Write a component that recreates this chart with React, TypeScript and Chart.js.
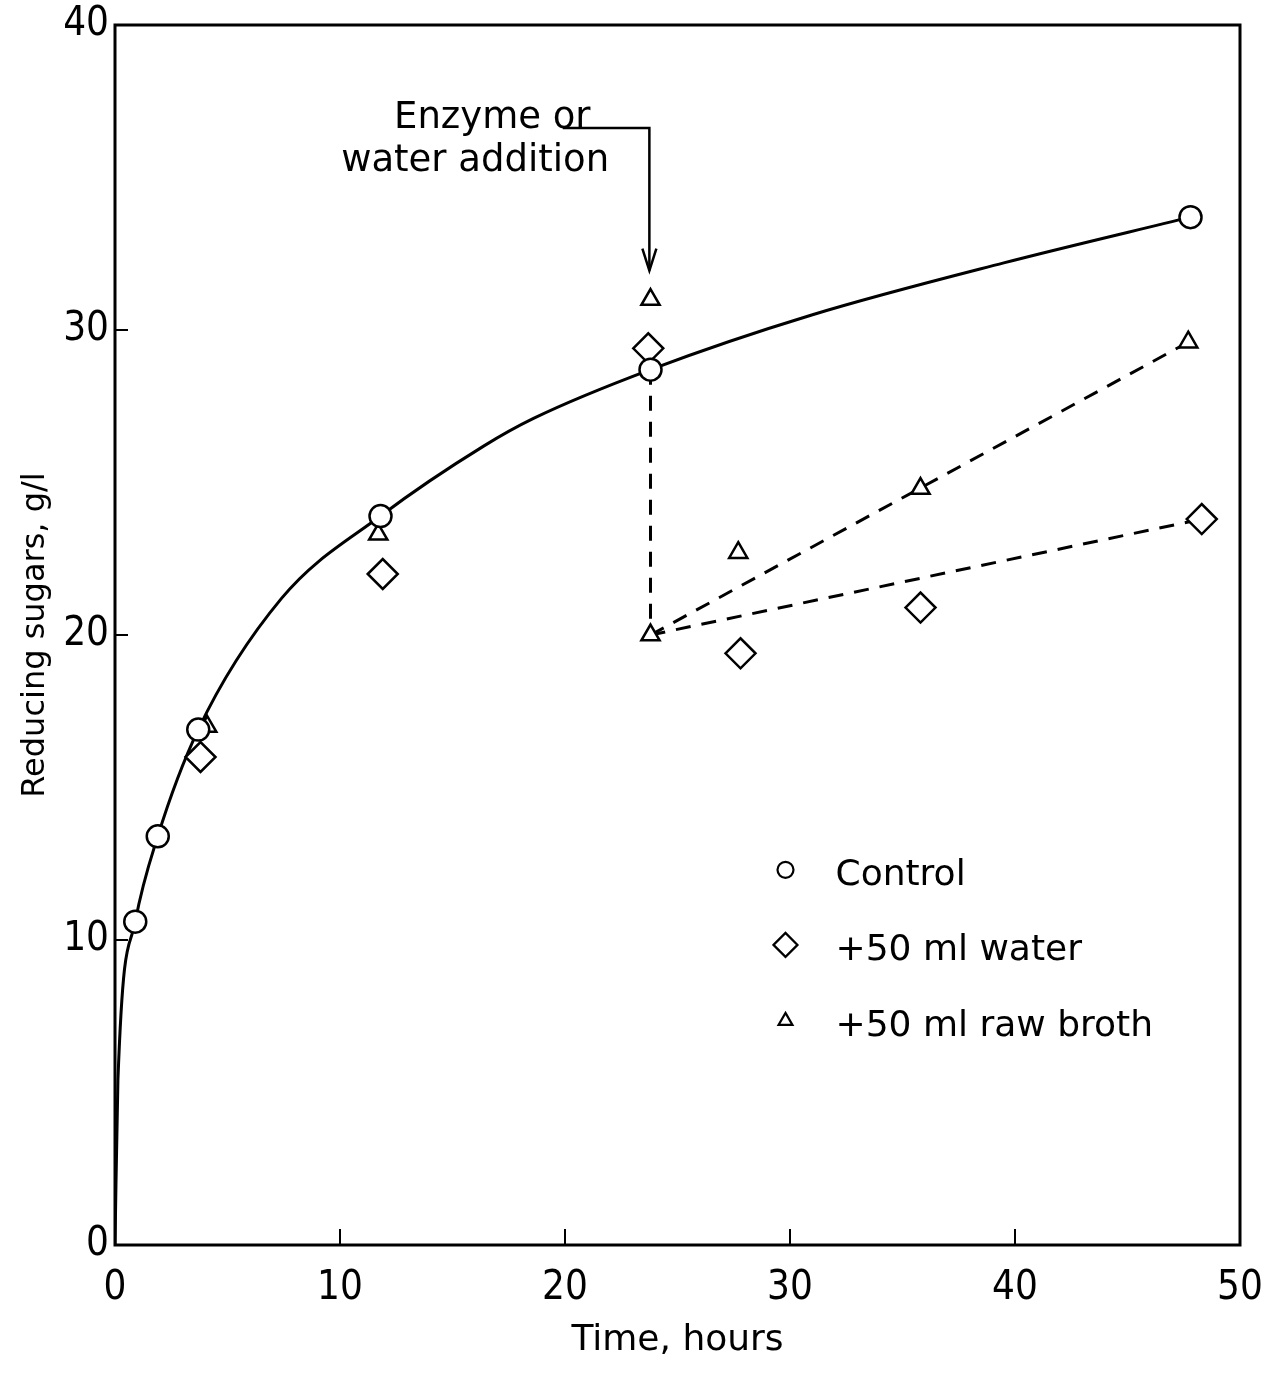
import React, { useEffect, useRef } from "react";
import { Chart, registerables } from "chart.js";

Chart.register(...registerables);

// ---- Axis ticks ----
const X_TICKS = [0, 10, 20, 30, 40, 50];
const Y_TICKS = [0, 10, 20, 30, 40];

// ---- Measured points (time in hours, reducing sugars in g/l) ----
const controlTime = [0.9, 1.9, 3.7, 11.8, 23.8, 47.8];
const controlSugar = [10.6, 13.4, 16.9, 23.9, 28.7, 33.7];

const waterTime = [3.8, 11.9, 23.7, 27.8, 35.8, 48.3];
const waterSugar = [16.0, 22.0, 29.4, 19.4, 20.9, 23.8];

const brothTime = [4.1, 11.7, 23.8, 23.8, 27.7, 35.8, 47.7];
const brothSugar = [17.0, 23.3, 31.0, 20.0, 22.7, 24.8, 29.6];

// ---- Hand-drawn control curve ----
const curveTime = [0, 0.13, 0.9, 1.9, 3.7, 7.4, 11.8, 16.4, 18.6, 23.8, 31.0, 39.5, 47.8];
const curveSugar = [0, 5.4, 10.6, 13.4, 16.9, 21.2, 23.9, 26.2, 27.1, 28.7, 30.5, 32.2, 33.7];

// ---- Dashed lines after addition ----
const dropTime = [23.8, 23.8];
const dropSugar = [28.7, 20.0];
const brothLineTime = [23.8, 47.7];
const brothLineSugar = [20.0, 29.6];
const waterLineTime = [23.8, 48.3];
const waterLineSugar = [20.0, 23.8];

// ---- Labels ----
const X_TITLE = "Time, hours";
const Y_TITLE = "Reducing sugars, g/l";
const LEGEND_LABELS = ["Control", "+50 ml water", "+50 ml raw broth"];
const NOTE_LINES = ["Enzyme or", "water addition"];

const pts = (xs: number[], ys: number[]) => xs.map((x, i) => ({ x, y: ys[i] }));

const TEXT_FONT = '"DejaVu Sans", "Liberation Sans", sans-serif';
const TICK_FONT = '"Liberation Sans Narrow", "DejaVu Sans Condensed", "DejaVu Sans", sans-serif';

function drawMarker(ctx: CanvasRenderingContext2D, kind: string, x: number, y: number, r: number) {
  ctx.beginPath();
  if (kind === "circle") {
    ctx.arc(x, y, r, 0, Math.PI * 2);
  } else if (kind === "diamond") {
    ctx.moveTo(x - r, y);
    ctx.lineTo(x, y - r);
    ctx.lineTo(x + r, y);
    ctx.lineTo(x, y + r);
    ctx.closePath();
  } else {
    const h = r * 1.5;
    const w = r * Math.sqrt(3);
    ctx.moveTo(x, y - r);
    ctx.lineTo(x + w / 2, y - r + h);
    ctx.lineTo(x - w / 2, y - r + h);
    ctx.closePath();
  }
  ctx.fillStyle = "#fff";
  ctx.fill();
  ctx.stroke();
}

const decorPlugin = {
  id: "decor",
  afterDatasetsDraw(chart: any) {
    const { ctx, chartArea: a, scales } = chart;
    const xs = scales.x;
    const ys = scales.y;
    ctx.save();
    ctx.strokeStyle = "#000";
    ctx.fillStyle = "#000";

    // frame
    ctx.lineWidth = 3;
    ctx.strokeRect(a.left, a.top, a.right - a.left, a.bottom - a.top);

    // inward ticks
    ctx.lineWidth = 2;
    ctx.beginPath();
    xs.ticks.forEach((t: any) => {
      if (t.value > xs.min && t.value < xs.max) {
        const px = xs.getPixelForValue(t.value);
        ctx.moveTo(px, a.bottom);
        ctx.lineTo(px, a.bottom - 16);
      }
    });
    ys.ticks.forEach((t: any) => {
      if (t.value > ys.min && t.value < ys.max) {
        const py = ys.getPixelForValue(t.value);
        ctx.moveTo(a.left, py);
        ctx.lineTo(a.left + 13, py);
      }
    });
    ctx.stroke();

    // annotation arrow
    const ax0 = xs.getPixelForValue(19.9);
    const ax1 = xs.getPixelForValue(23.75);
    const ay0 = ys.getPixelForValue(36.62);
    const ay1 = ys.getPixelForValue(31.95);
    ctx.lineWidth = 2.5;
    ctx.beginPath();
    ctx.moveTo(ax0, ay0);
    ctx.lineTo(ax1, ay0);
    ctx.lineTo(ax1, ay1);
    ctx.stroke();
    ctx.beginPath();
    ctx.moveTo(ax1 - 7, ay1 - 22);
    ctx.lineTo(ax1, ay1);
    ctx.lineTo(ax1 + 7, ay1 - 22);
    ctx.stroke();

    // annotation text
    ctx.font = `37px ${TEXT_FONT}`;
    ctx.textAlign = "left";
    ctx.textBaseline = "alphabetic";
    ctx.fillText(NOTE_LINES[0], xs.getPixelForValue(12.4), ys.getPixelForValue(36.62));
    ctx.fillText(NOTE_LINES[1], xs.getPixelForValue(10.05), ys.getPixelForValue(35.2));

    // legend
    ctx.font = `36px ${TEXT_FONT}`;
    const kinds = ["circle", "diamond", "triangle"];
    const sizes = [8, 12, 8];
    const rowY = [12.3, 9.84, 7.35];
    const mx = xs.getPixelForValue(29.8);
    ctx.lineWidth = 2.2;
    kinds.forEach((k, i) => {
      const py = ys.getPixelForValue(rowY[i]);
      drawMarker(ctx, k, mx, py, sizes[i]);
      ctx.fillStyle = "#000";
      ctx.textBaseline = "middle";
      ctx.fillText(LEGEND_LABELS[i], mx + 50, py + 6);
    });

    ctx.restore();
  },
};

const zeroPad = (s: any) => {
  s.paddingLeft = 0;
  s.paddingRight = 0;
  s.paddingTop = 0;
  s.paddingBottom = 0;
};

export default function App() {
  const ref = useRef<HTMLCanvasElement | null>(null);

  useEffect(() => {
    document.body.style.margin = "0";
    document.body.style.background = "#fff";
    const canvas = ref.current;
    if (!canvas) return;

    const markerBase = {
      showLine: false,
      pointBackgroundColor: "#fff",
      pointBorderColor: "#000",
      pointBorderWidth: 2.5,
      order: 0,
    };
    const lineBase = {
      showLine: true,
      pointRadius: 0,
      borderColor: "#000",
      borderWidth: 3,
      fill: false,
      order: 1,
    };

    const chart = new Chart(canvas, {
      type: "scatter",
      data: {
        datasets: [
          { ...markerBase, label: LEGEND_LABELS[0], data: pts(controlTime, controlSugar), pointStyle: "circle", pointRadius: 11 },
          { ...markerBase, label: LEGEND_LABELS[1], data: pts(waterTime, waterSugar), pointStyle: "rectRot", pointRadius: 15 },
          { ...markerBase, label: LEGEND_LABELS[2], data: pts(brothTime, brothSugar), pointStyle: "triangle", pointRadius: 10.5 },
          { ...lineBase, label: "curve", data: pts(curveTime, curveSugar), cubicInterpolationMode: "monotone" },
          { ...lineBase, label: "drop", data: pts(dropTime, dropSugar), borderDash: [15, 11] },
          { ...lineBase, label: "broth line", data: pts(brothLineTime, brothLineSugar), borderDash: [15, 11] },
          { ...lineBase, label: "water line", data: pts(waterLineTime, waterLineSugar), borderDash: [15, 11] },
        ] as any,
      },
      options: {
        responsive: false,
        animation: false,
        devicePixelRatio: 1,
        layout: { padding: { top: 25, right: 34, left: 0, bottom: 0 } },
        plugins: {
          legend: { display: false },
          tooltip: { enabled: false },
        },
        scales: {
          x: {
            type: "linear",
            min: 0,
            max: 50,
            afterBuildTicks: (s: any) => {
              s.ticks = X_TICKS.map((v) => ({ value: v }));
            },
            afterFit: (s: any) => {
              s.height = 129;
              zeroPad(s);
            },
            grid: { display: false, drawTicks: false },
            border: { display: false },
            ticks: {
              color: "#000",
              padding: 20,
              maxRotation: 0,
              font: { family: TICK_FONT, size: 40 },
            },
            title: {
              display: true,
              text: X_TITLE,
              color: "#000",
              font: { family: TEXT_FONT, size: 36 },
              padding: { top: 0, bottom: 12 },
            },
          },
          y: {
            type: "linear",
            min: 0,
            max: 40,
            afterBuildTicks: (s: any) => {
              s.ticks = Y_TICKS.map((v) => ({ value: v }));
            },
            afterFit: (s: any) => {
              s.width = 115;
              zeroPad(s);
            },
            grid: { display: false, drawTicks: false },
            border: { display: false },
            ticks: {
              color: "#000",
              padding: 6,
              font: { family: TICK_FONT, size: 40 },
            },
            title: {
              display: true,
              text: Y_TITLE,
              color: "#000",
              font: { family: TEXT_FONT, size: 32 },
              padding: { top: 16, bottom: 0 },
            },
          },
        },
      } as any,
      plugins: [decorPlugin],
    });

    return () => chart.destroy();
  }, []);

  return (
    <div style={{ width: 1274, height: 1374, background: "#fff" }}>
      <canvas ref={ref} width={1274} height={1374} style={{ display: "block" }} />
    </div>
  );
}
